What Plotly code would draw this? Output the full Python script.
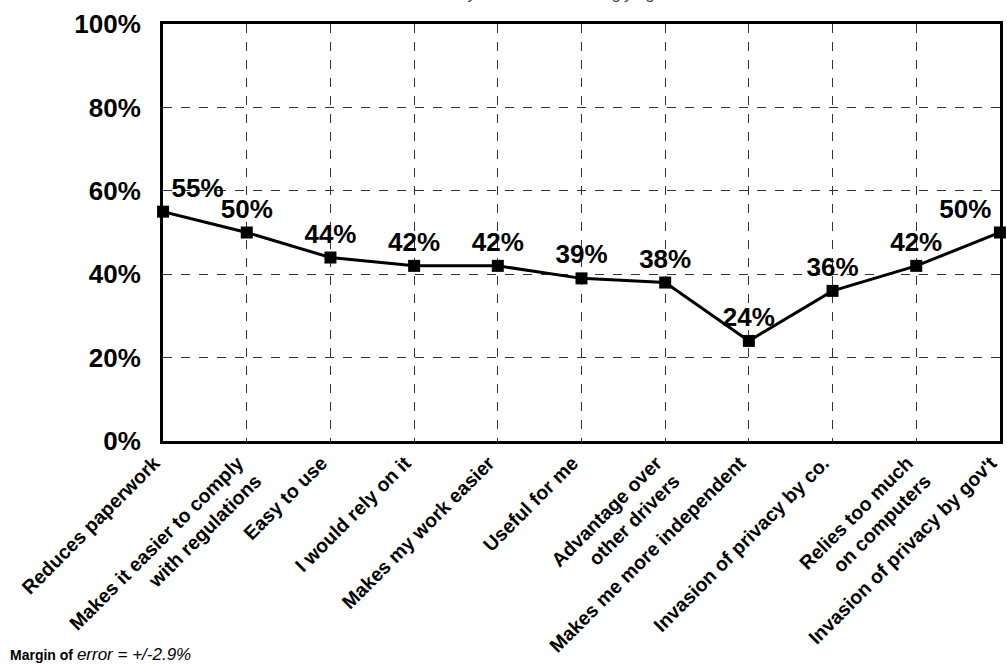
import plotly.graph_objects as go

categories = [
    "Reduces paperwork",
    "Makes it easier to comply<br>with regulations",
    "Easy to use",
    "I would rely on it",
    "Makes my work easier",
    "Useful for me",
    "Advantage over<br>other drivers",
    "Makes me more independent",
    "Invasion of privacy by co.",
    "Relies too much<br>on computers",
    "Invasion of privacy by gov't",
]
values = [55, 50, 44, 42, 42, 39, 38, 24, 36, 42, 50]
y_ticks = [0, 20, 40, 60, 80, 100]
y_tick_labels = ["0%", "20%", "40%", "60%", "80%", "100%"]

FONT = "Arial, Liberation Sans, sans-serif"
xs = list(range(len(categories)))
positions = ["top right"] + ["top center"] * (len(values) - 2) + ["top left"]

fig = go.Figure()
fig.add_trace(go.Scatter(
    x=xs, y=values,
    mode="lines+markers+text",
    line=dict(color="black", width=3),
    marker=dict(symbol="square", size=12, color="black"),
    text=[f"{v}%" for v in values],
    textposition=positions,
    textfont=dict(family=FONT, size=26, color="black", weight="bold"),
    cliponaxis=False,
    showlegend=False,
))

fig.update_layout(
    width=1007, height=665,
    margin=dict(l=163, r=4, t=24, b=224),
    paper_bgcolor="white", plot_bgcolor="white",
    font=dict(family=FONT, color="black"),
)
fig.update_xaxes(
    range=[-0.001, len(categories) - 1 + 0.001],
    tickvals=xs, ticktext=categories,
    tickangle=-45,
    tickfont=dict(family=FONT, size=19.5, color="black", weight="bold"),
    ticklabeloverflow="allow",
    ticklabelshift=-9,
    showgrid=True, gridcolor="#333333", griddash="dash", gridwidth=1,
    showline=True, linecolor="black", linewidth=3, mirror=True,
    ticks="", zeroline=False, ticklabelstandoff=0,
)
fig.update_yaxes(
    range=[0, 100],
    tickvals=y_ticks, ticktext=y_tick_labels,
    tickfont=dict(family=FONT, size=26, color="black", weight="bold"),
    showgrid=True, gridcolor="#333333", griddash="dash", gridwidth=1,
    showline=True, linecolor="black", linewidth=3, mirror=True,
    ticks="", zeroline=False, ticklabelstandoff=14,
)

fig.add_annotation(
    xref="paper", yref="paper", x=0.1, y=1.048, xanchor="left", yanchor="bottom",
    text="<i>Percent of drivers who said they somewhat or strongly agree</i>",
    showarrow=False, font=dict(family=FONT, size=16, color="#444444"),
)
fig.add_annotation(
    xref="paper", yref="paper", x=-0.1857, y=-0.513, xanchor="left", yanchor="middle",
    text="<b>Margin of</b> <i><span style='font-size:17px'>error = +/-2.9%</span></i>",
    showarrow=False, font=dict(family=FONT, size=14, color="black"),
)

fig.write_html(
    "out.html",
    config={"displayModeBar": False},
    post_script=(
        "document.body.style.margin='0';"
        "document.body.style.overflow='hidden';"
        "document.documentElement.style.overflow='hidden';"
    ),
)
